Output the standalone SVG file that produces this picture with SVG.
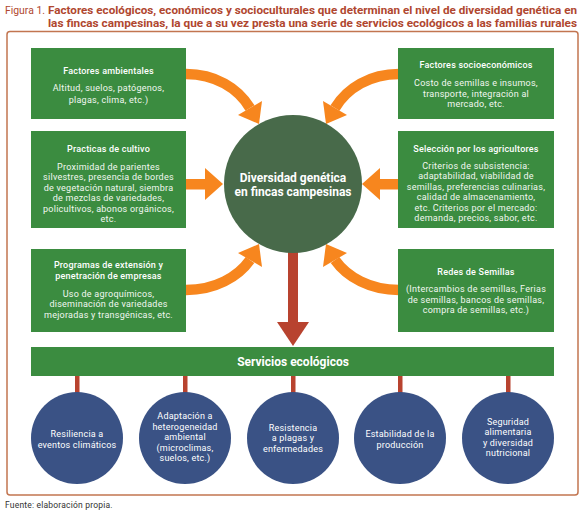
<svg xmlns="http://www.w3.org/2000/svg" width="584" height="514" viewBox="0 0 584 514">
<style>
.t{font-family:Roboto,"Noto Sans","Open Sans",sans-serif;}
.title{font-size:11px;fill:#b0472f;font-weight:bold;}
.box{fill:#3b8c40;}
.bt{font-size:9px;fill:#ffffff;text-anchor:middle;font-weight:500;letter-spacing:0.2px;}
.bb{font-size:9px;fill:#f2f7f0;text-anchor:middle;letter-spacing:0.25px;}
.blue{fill:#3a5285;}
.ct{font-size:9px;fill:#ffffff;text-anchor:middle;letter-spacing:0.2px;}
.ostroke{fill:none;stroke:#f7861e;stroke-width:10.5;}
.ohead{fill:#f7861e;}
.red{fill:#b8432f;}
</style>
<rect width="584" height="514" fill="#ffffff"/>
<g id="title" class="t">
<text x="5" y="14" class="title" style="font-weight:normal" textLength="40" lengthAdjust="spacingAndGlyphs">Figura 1.</text>
<text x="48" y="14" class="title" textLength="529" lengthAdjust="spacingAndGlyphs">Factores ecológicos, económicos y socioculturales que determinan el nivel de diversidad genética en</text>
<text x="48" y="27" class="title" textLength="529" lengthAdjust="spacingAndGlyphs">las fincas campesinas, la que a su vez presta una serie de servicios ecológicos a las familias rurales</text>
</g>
<rect x="7" y="31.5" width="571" height="463.5" rx="3" fill="none" stroke="#c27550" stroke-width="1.5"/>

<g id="connectors">
<path class="ostroke" d="M186,74 C215,74 238,88 250,108"/>
<polygon class="ohead" points="238,115 262,101 259,124"/>
<path class="ostroke" d="M399,74 C370,74 347,88 335,108"/>
<polygon class="ohead" points="347,115 323,101 326,124"/>
<rect x="186" y="179" width="21" height="10.5" class="ohead"/>
<polygon class="ohead" points="205,168 223,184 205,200"/>
<rect x="379" y="179" width="19" height="10.5" class="ohead"/>
<polygon class="ohead" points="380,168 362,184 380,200"/>
<path class="ostroke" d="M186,290 C215,290 238,277 250,260"/>
<polygon class="ohead" points="238,253 262,267 259,244"/>
<path class="ostroke" d="M399,290 C370,290 347,277 335,260"/>
<polygon class="ohead" points="347,253 323,267 326,244"/>
<rect x="288" y="250" width="10" height="74" class="red"/>
<polygon class="red" points="277,322 309,322 293,346"/>
<rect x="75" y="375" width="4.5" height="19" class="red"/>
<rect x="183" y="375" width="4.5" height="19" class="red"/>
<rect x="291" y="375" width="4.5" height="19" class="red"/>
<rect x="398" y="375" width="4.5" height="19" class="red"/>
<rect x="506" y="375" width="4.5" height="19" class="red"/>
</g>

<g id="n-ambientales" class="t">
<rect class="box" x="31" y="48" width="155" height="71"/>
<text class="bt" x="108.5" y="74">Factores ambientales</text>
<text class="bb" x="108.5" y="91">Altitud, suelos, patógenos,</text>
<text class="bb" x="108.5" y="103">plagas, clima, etc.)</text>
</g>
<g id="n-socioeconomicos" class="t">
<rect class="box" x="398" y="48" width="156" height="71"/>
<text class="bt" x="476" y="68">Factores socioeconómicos</text>
<text class="bb" x="476" y="86">Costo de semillas e insumos,</text>
<text class="bb" x="476" y="96.5">transporte, integración al</text>
<text class="bb" x="476" y="107">mercado, etc.</text>
</g>
<g id="n-practicas" class="t">
<rect class="box" x="31" y="131" width="155" height="97"/>
<text class="bt" x="108.5" y="152">Practicas de cultivo</text>
<text class="bb" x="108.5" y="169.5">Proximidad de parientes</text>
<text class="bb" x="108.5" y="180">silvestres, presencia de bordes</text>
<text class="bb" x="108.5" y="190.5">de vegetación natural, siembra</text>
<text class="bb" x="108.5" y="201">de mezclas de variedades,</text>
<text class="bb" x="108.5" y="211.5">policultivos, abonos orgánicos,</text>
<text class="bb" x="108.5" y="222">etc.</text>
</g>
<g id="n-seleccion" class="t">
<rect class="box" x="398" y="131" width="156" height="97"/>
<text class="bt" x="476" y="152">Selección por los agricultores</text>
<text class="bb" x="476" y="168.5">Criterios de subsistencia:</text>
<text class="bb" x="476" y="179">adaptabilidad, viabilidad de</text>
<text class="bb" x="476" y="189.5">semillas, preferencias culinarias,</text>
<text class="bb" x="476" y="200">calidad de almacenamiento,</text>
<text class="bb" x="476" y="210.5">etc. Criterios por el mercado:</text>
<text class="bb" x="476" y="221">demanda, precios, sabor, etc.</text>
</g>
<g id="n-programas" class="t">
<rect class="box" x="31" y="249" width="155" height="83"/>
<text class="bt" x="108.5" y="268">Programas de extensión y</text>
<text class="bt" x="108.5" y="279">penetración de empresas</text>
<text class="bb" x="108.5" y="296.5">Uso de agroquímicos,</text>
<text class="bb" x="108.5" y="307">diseminación de variedades</text>
<text class="bb" x="108.5" y="317.5">mejoradas y transgénicas, etc.</text>
</g>
<g id="n-redes" class="t">
<rect class="box" x="398" y="249" width="156" height="83"/>
<text class="bt" x="476" y="275">Redes de Semillas</text>
<text class="bb" x="476" y="292">(Intercambios de semillas, Ferias</text>
<text class="bb" x="476" y="302.5">de semillas, bancos de semillas,</text>
<text class="bb" x="476" y="313">compra de semillas, etc.)</text>
</g>
<g id="n-diversidad" class="t">
<circle cx="293" cy="184" r="69" fill="#486a4a"/>
<text x="293" y="182" style="font-size:12px;font-weight:bold;fill:#ffffff;text-anchor:middle">Diversidad genética</text>
<text x="293" y="196" style="font-size:12px;font-weight:bold;fill:#ffffff;text-anchor:middle">en fincas campesinas</text>
</g>
<g id="n-servicios" class="t">
<rect class="box" x="31" y="347" width="523" height="29"/>
<text x="293" y="366" style="font-size:12px;font-weight:bold;fill:#ffffff;text-anchor:middle">Servicios ecológicos</text>
</g>
<g id="n-resiliencia" class="t">
<circle class="blue" cx="77" cy="438" r="46"/>
<text class="ct" x="77" y="437">Resiliencia a</text>
<text class="ct" x="77" y="447.5">eventos climáticos</text>
</g>
<g id="n-adaptacion" class="t">
<circle class="blue" cx="185" cy="438" r="46"/>
<text class="ct" x="185" y="419">Adaptación a</text>
<text class="ct" x="185" y="429.5">heterogeneidad</text>
<text class="ct" x="185" y="440">ambiental</text>
<text class="ct" x="185" y="450.5">(microclimas,</text>
<text class="ct" x="185" y="461">suelos, etc.)</text>
</g>
<g id="n-resistencia" class="t">
<circle class="blue" cx="293" cy="438" r="46"/>
<text class="ct" x="293" y="430.5">Resistencia</text>
<text class="ct" x="293" y="441">a plagas y</text>
<text class="ct" x="293" y="451.5">enfermedades</text>
</g>
<g id="n-estabilidad" class="t">
<circle class="blue" cx="400" cy="438" r="46"/>
<text class="ct" x="400" y="437">Estabilidad de la</text>
<text class="ct" x="400" y="447.5">producción</text>
</g>
<g id="n-seguridad" class="t">
<circle class="blue" cx="508" cy="438" r="46"/>
<text class="ct" x="508" y="424.5">Seguridad</text>
<text class="ct" x="508" y="435">alimentaria</text>
<text class="ct" x="508" y="445.5">y diversidad</text>
<text class="ct" x="508" y="456">nutricional</text>
</g>
<text x="5" y="508" class="t" style="font-size:8.5px;fill:#333333;letter-spacing:0.2px">Fuente: elaboración propia.</text>
</svg>
